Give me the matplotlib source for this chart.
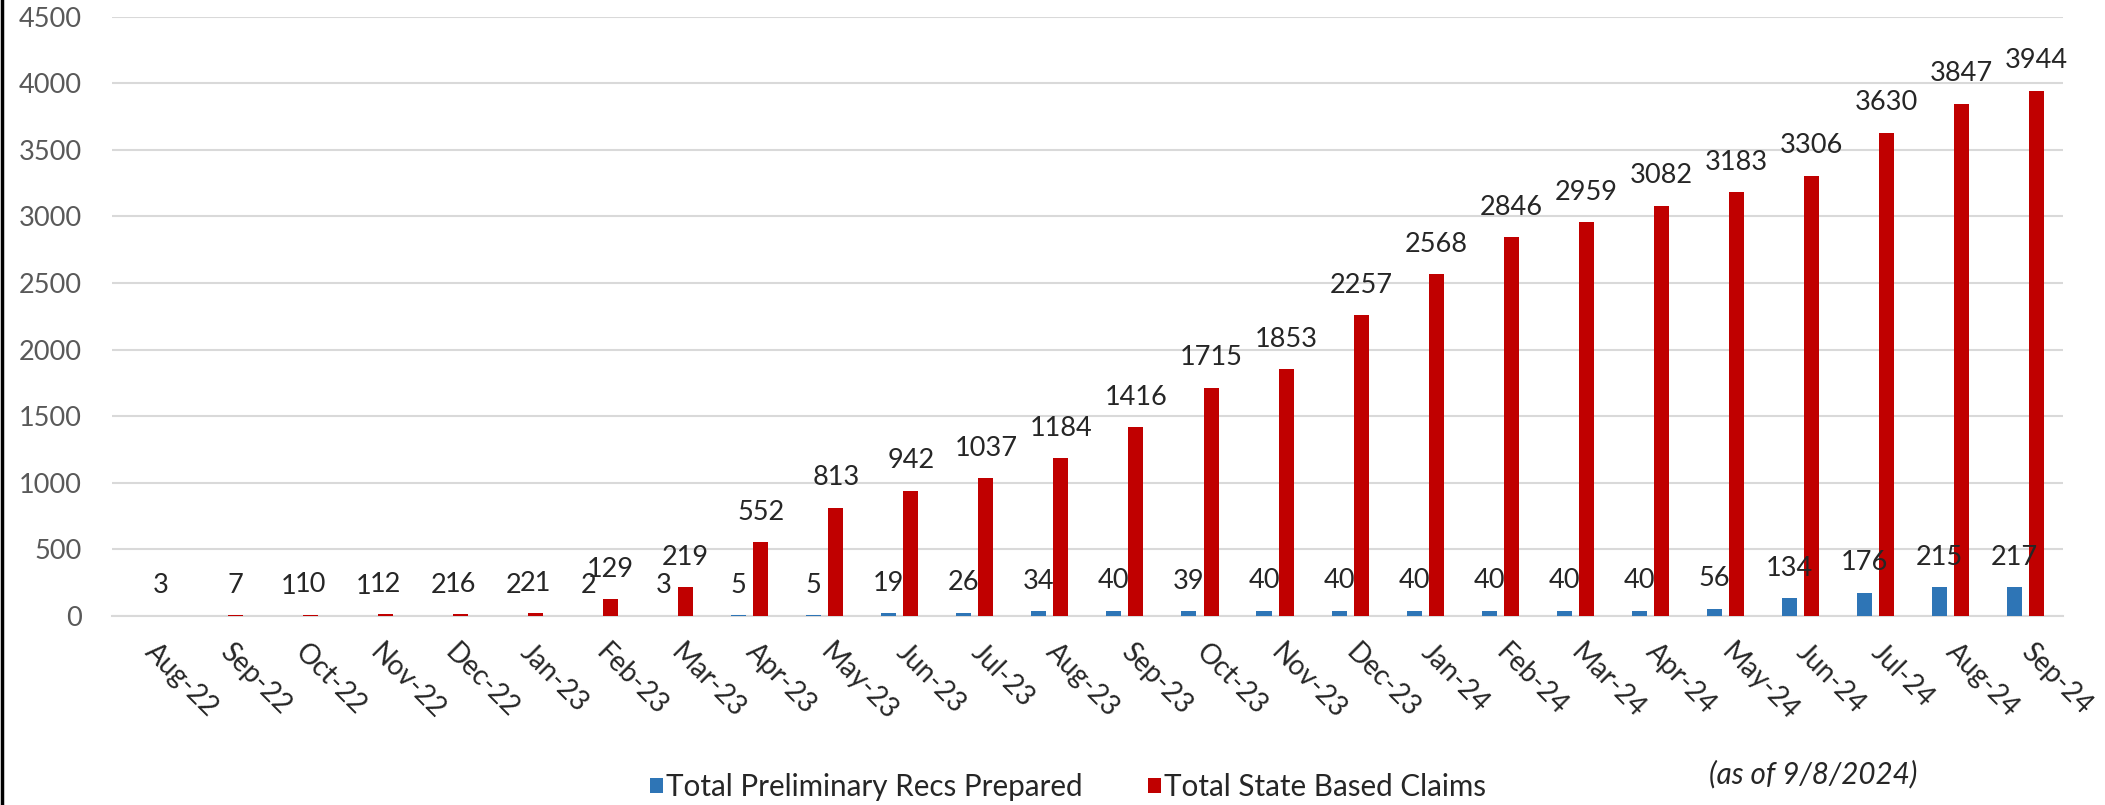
import matplotlib
matplotlib.use("Agg")
import matplotlib.pyplot as plt
import numpy as np

plt.rcParams['font.family'] = ['Lato', 'DejaVu Sans']

months = ["Aug-22", "Sep-22", "Oct-22", "Nov-22", "Dec-22", "Jan-23", "Feb-23", "Mar-23",
          "Apr-23", "May-23", "Jun-23", "Jul-23", "Aug-23", "Sep-23", "Oct-23", "Nov-23",
          "Dec-23", "Jan-24", "Feb-24", "Mar-24", "Apr-24", "May-24", "Jun-24", "Jul-24",
          "Aug-24", "Sep-24"]
prelim_recs = [None, None, 1, 1, 2, 2, 2, 3, 5, 5, 19, 26, 34, 40, 39, 40,
               40, 40, 40, 40, 40, 56, 134, 176, 215, 217]
state_claims = [3, 7, 10, 12, 16, 21, 129, 219, 552, 813, 942, 1037, 1184, 1416, 1715, 1853,
                2257, 2568, 2846, 2959, 3082, 3183, 3306, 3630, 3847, 3944]
y_ticks = [0, 500, 1000, 1500, 2000, 2500, 3000, 3500, 4000, 4500]

BLUE = "#2E75B6"
RED = "#C00000"
FS = 19.5
LFS = 21.3

fig = plt.figure(figsize=(21.05, 8.05), dpi=100)
ax = fig.add_axes([0.0532, 0.2348, 0.980 - 0.0532, 0.9793 - 0.2348])

x = np.arange(len(months))
w = 0.2
off = 0.147
blue_vals = np.array([np.nan if v is None else v for v in prelim_recs], dtype=float)
b1 = ax.bar(x - off, blue_vals, width=w, color=BLUE, label="Total Preliminary Recs Prepared", zorder=3)
b2 = ax.bar(x + off, state_claims, width=w, color=RED, label="Total State Based Claims", zorder=3)

for xi, v in zip(x, prelim_recs):
    if v is None:
        continue
    ax.annotate(str(v), (xi - off, v), xytext=(0, 16), textcoords="offset points",
                ha="center", va="baseline", fontsize=FS, color="#262626", zorder=4)
for xi, v in zip(x, state_claims):
    ax.annotate(str(v), (xi + off, v), xytext=(0, 16), textcoords="offset points",
                ha="center", va="baseline", fontsize=FS, color="#262626", zorder=4)

ax.set_xlim(-0.5, len(months) - 0.5)
ax.set_ylim(0, 4500)
ax.set_yticks(y_ticks)
ax.set_yticklabels([str(t) for t in y_ticks], fontsize=FS, color="#595959")
ax.tick_params(axis="y", length=0, pad=22)
ax.yaxis.grid(True, color="#D9D9D9", linewidth=1.5, zorder=0)
ax.set_axisbelow(True)
for s in ["top", "right", "left"]:
    ax.spines[s].set_visible(False)
ax.spines["bottom"].set_color("#D9D9D9")
ax.spines["bottom"].set_linewidth(1.5)

ax.set_xticks(x)
ax.set_xticklabels(months, fontsize=FS + 0.5, color="#262626", rotation=-45,
                   ha="left", va="center", rotation_mode="anchor")
ax.tick_params(axis="x", length=0, pad=23)

fig.legend(handles=[b1, b2], loc="center", bbox_to_anchor=(0.5075, 0.022), ncol=2,
           frameon=False, fontsize=LFS, handlelength=0.42, handleheight=0.42,
           handletextpad=0.12, columnspacing=2.2, labelcolor="#262626")

fig.text(0.8615, 0.0385, "(as of 9/8/2024)", fontsize=LFS, style="italic",
         ha="center", va="center", color="#262626")

# left border of the original screenshot
fig.add_artist(plt.Line2D([0.0008, 0.0008], [0, 1], color="black", linewidth=2.5,
                          transform=fig.transFigure))

fig.savefig("out.png", dpi=100)
